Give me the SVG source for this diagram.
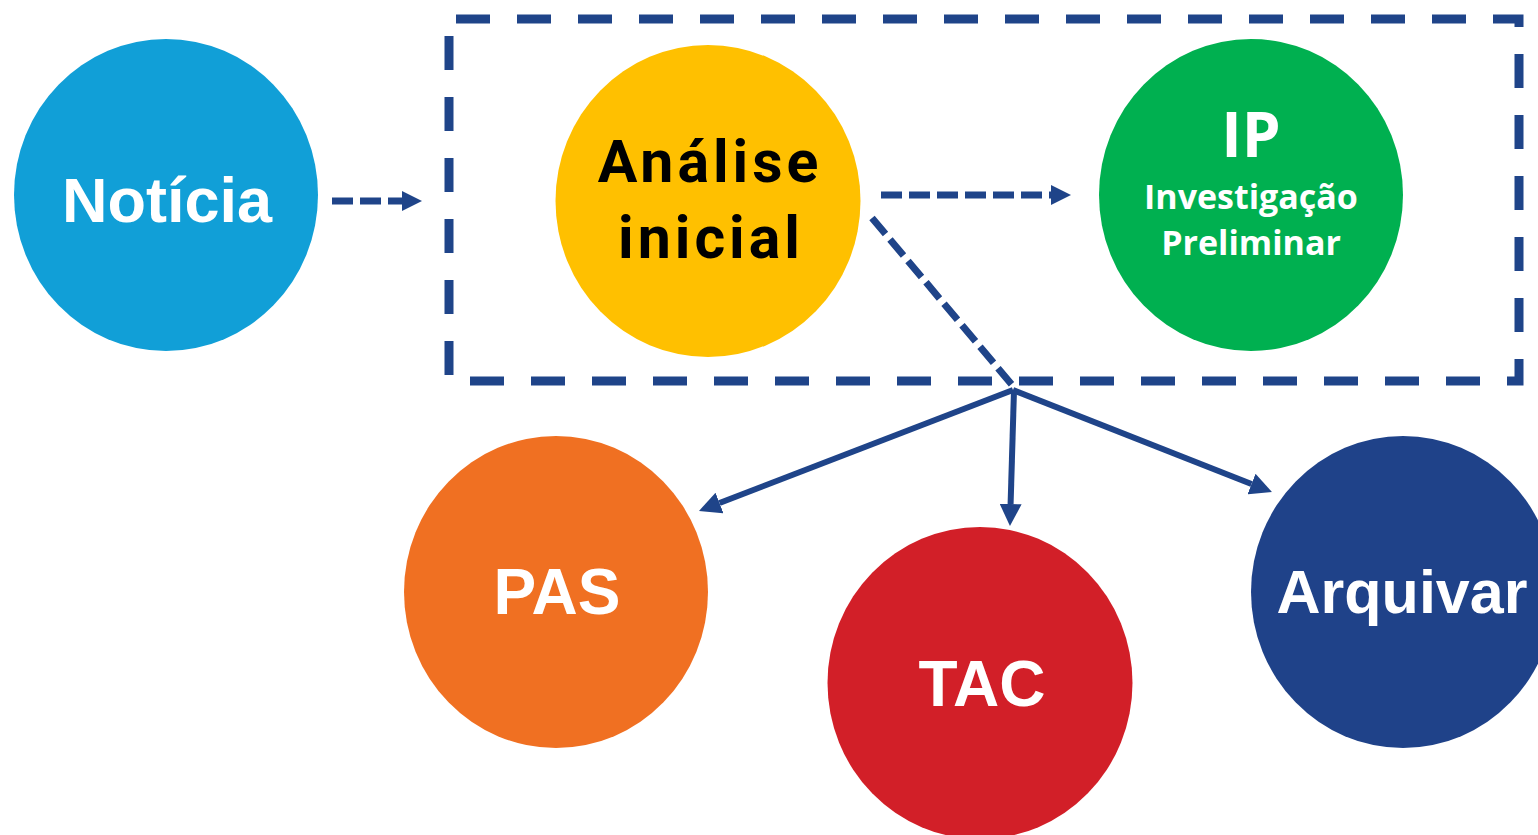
<svg xmlns="http://www.w3.org/2000/svg" width="1538" height="835" viewBox="0 0 1538 835">
<style>
.w{fill:#ffffff;font-family:"Liberation Sans",Arial,sans-serif;font-weight:bold;text-anchor:middle}
.k{fill:#000000;font-family:Roboto,"Liberation Sans",sans-serif;font-weight:bold;text-anchor:middle;letter-spacing:4px}
.n{fill:#ffffff;font-family:"Open Sans","Liberation Sans",sans-serif;font-weight:bold;text-anchor:middle}
.dash{fill:none;stroke:#1F4489;stroke-width:7;stroke-dasharray:21 7}
.solid{fill:none;stroke:#1F4489;stroke-width:6}
</style>
<defs>
<marker id="ad" markerUnits="userSpaceOnUse" markerWidth="20" markerHeight="20" refX="0" refY="10" orient="auto" viewBox="0 0 20 20">
<path d="M0,0 L20,10 L0,20 z" fill="#1F4489"/>
</marker>
<marker id="as" markerUnits="userSpaceOnUse" markerWidth="22" markerHeight="22" refX="0" refY="11" orient="auto" viewBox="0 0 22 22">
<path d="M0,0 L22,11 L0,22 z" fill="#1F4489"/>
</marker>
</defs>
<rect width="1538" height="835" fill="#ffffff"/>
<g id="box">
<path d="M449,19 H1519 V381 H449 Z" fill="none" stroke="#1F4489" stroke-width="9" stroke-dasharray="34 27" stroke-dashoffset="54"/>
</g>
<g id="noticia">
<ellipse cx="166" cy="195" rx="152" ry="156" fill="#119FD7"/>
<text class="w" x="167" y="222" font-size="63">Notícia</text>
</g>
<g id="analise">
<ellipse cx="708" cy="201" rx="152.5" ry="156" fill="#FFC000"/>
<text class="k" x="710" y="182" font-size="59">Análise</text>
<text class="k" x="711" y="258" font-size="59">inicial</text>
</g>
<g id="ip">
<ellipse cx="1251" cy="195" rx="152" ry="156" fill="#00B050"/>
<text class="n" x="1251" y="157" font-size="62">IP</text>
<text class="n" x="1251" y="209" font-size="34">Investigação</text>
<text class="n" x="1251" y="255" font-size="34">Preliminar</text>
</g>
<g id="pas">
<ellipse cx="556" cy="592" rx="152" ry="156" fill="#F07022"/>
<text class="w" x="557" y="614" font-size="64">PAS</text>
</g>
<g id="tac">
<ellipse cx="980" cy="683" rx="152.5" ry="156" fill="#D21F28"/>
<text class="w" x="982" y="706" font-size="64">TAC</text>
</g>
<g id="arquivar">
<ellipse cx="1403" cy="592" rx="152" ry="156" fill="#1F4289"/>
<text class="w" x="1402" y="613" font-size="61">Arquivar</text>
</g>
<g id="connectors">
<line class="dash" x1="332" y1="201" x2="402" y2="201" marker-end="url(#ad)"/>
<line class="dash" x1="881" y1="195" x2="1051" y2="195" marker-end="url(#ad)"/>
<line class="dash" x1="872" y1="218" x2="1013" y2="386"/>
<line class="solid" x1="1013" y1="390" x2="719.5" y2="503" marker-end="url(#as)"/>
<line class="solid" x1="1014" y1="390" x2="1010.6" y2="504" marker-end="url(#as)"/>
<line class="solid" x1="1013" y1="390" x2="1251.5" y2="484" marker-end="url(#as)"/>
</g>
</svg>
